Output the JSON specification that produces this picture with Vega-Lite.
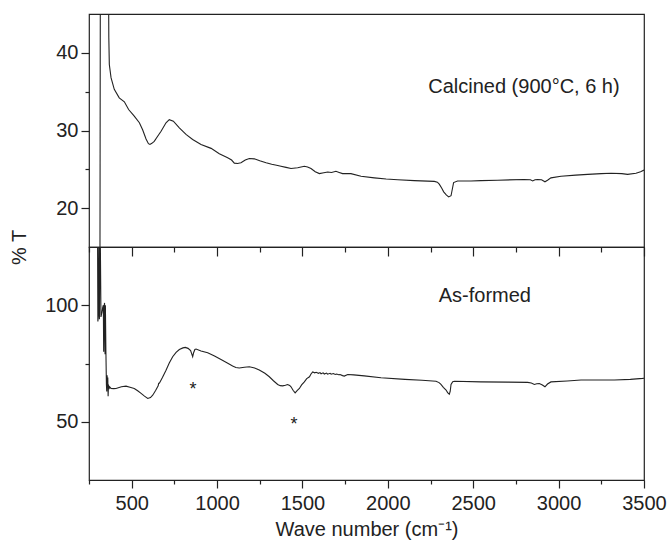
{
  "$schema": "https://vega.github.io/schema/vega-lite/v6.json",
  "bounds": "flush",
  "spacing": 0,
  "padding": {"left": 8, "top": 13, "right": 5, "bottom": 5},
  "background": "white",
  "config": {
    "font": "Liberation Sans",
    "view": {"stroke": "#222", "strokeWidth": 1.2},
    "axis": {
      "grid": false,
      "domain": false,
      "labelFont": "Liberation Sans",
      "labelFontSize": 20,
      "labelColor": "#222",
      "tickColor": "#222",
      "tickWidth": 1.2,
      "titleFont": "Liberation Sans",
      "titleFontSize": 20,
      "titleFontWeight": "normal",
      "titleColor": "#222",
      "labelPadding": 3
    },
    "text": {"font": "Liberation Sans", "color": "#222"}
  },
  "datasets": {
    "calcined": [
      {"wn":314,"t":10},{"wn":317,"t":60},{"wn":362,"t":60},{"wn":366,"t":42},{"wn":369,"t":38.5},{"wn":379,"t":36.8},{"wn":398,"t":35.3},{"wn":427,"t":34.2},{"wn":457,"t":33.7},{"wn":482,"t":32.7},{"wn":515,"t":31.85},{"wn":545,"t":31.0},{"wn":564,"t":30.1},{"wn":584,"t":28.9},{"wn":598,"t":28.3},{"wn":607,"t":28.2},{"wn":618,"t":28.35},{"wn":632,"t":28.6},{"wn":650,"t":29.2},{"wn":672,"t":29.9},{"wn":701,"t":31.0},{"wn":720,"t":31.4},{"wn":744,"t":31.2},{"wn":779,"t":30.35},{"wn":818,"t":29.5},{"wn":857,"t":28.85},{"wn":906,"t":28.2},{"wn":965,"t":27.7},{"wn":1013,"t":27.0},{"wn":1062,"t":26.5},{"wn":1085,"t":26.2},{"wn":1101,"t":25.8},{"wn":1120,"t":25.75},{"wn":1140,"t":25.85},{"wn":1165,"t":26.2},{"wn":1189,"t":26.4},{"wn":1218,"t":26.35},{"wn":1250,"t":26.1},{"wn":1287,"t":25.85},{"wn":1320,"t":25.65},{"wn":1355,"t":25.5},{"wn":1374,"t":25.4},{"wn":1404,"t":25.25},{"wn":1433,"t":25.1},{"wn":1472,"t":25.2},{"wn":1511,"t":25.4},{"wn":1530,"t":25.3},{"wn":1550,"t":25.1},{"wn":1575,"t":24.7},{"wn":1599,"t":24.45},{"wn":1625,"t":24.55},{"wn":1648,"t":24.65},{"wn":1670,"t":24.6},{"wn":1696,"t":24.75},{"wn":1715,"t":24.6},{"wn":1735,"t":24.45},{"wn":1784,"t":24.45},{"wn":1843,"t":24.1},{"wn":1921,"t":23.9},{"wn":1990,"t":23.75},{"wn":2058,"t":23.65},{"wn":2155,"t":23.55},{"wn":2272,"t":23.45},{"wn":2290,"t":23.35},{"wn":2301,"t":23.1},{"wn":2315,"t":22.6},{"wn":2327,"t":22.1},{"wn":2342,"t":21.7},{"wn":2356,"t":21.45},{"wn":2370,"t":21.6},{"wn":2378,"t":22.5},{"wn":2385,"t":23.3},{"wn":2408,"t":23.5},{"wn":2487,"t":23.5},{"wn":2545,"t":23.55},{"wn":2643,"t":23.6},{"wn":2799,"t":23.7},{"wn":2835,"t":23.65},{"wn":2848,"t":23.5},{"wn":2862,"t":23.65},{"wn":2877,"t":23.7},{"wn":2900,"t":23.65},{"wn":2920,"t":23.4},{"wn":2935,"t":23.6},{"wn":2955,"t":23.9},{"wn":3014,"t":24.1},{"wn":3100,"t":24.25},{"wn":3170,"t":24.35},{"wn":3250,"t":24.45},{"wn":3307,"t":24.5},{"wn":3370,"t":24.45},{"wn":3404,"t":24.35},{"wn":3453,"t":24.5},{"wn":3480,"t":24.7},{"wn":3500,"t":24.9}
    ],
    "asformed": [
      {"wn":300,"t":131},{"wn":302,"t":93},{"wn":305,"t":96},{"wn":308,"t":130},{"wn":311,"t":94},{"wn":315,"t":140},{"wn":320,"t":95},{"wn":326,"t":97},{"wn":330,"t":99},{"wn":334,"t":100},{"wn":336,"t":80},{"wn":338,"t":99},{"wn":341,"t":101},{"wn":344,"t":79},{"wn":346,"t":100},{"wn":349,"t":80},{"wn":352,"t":66},{"wn":354,"t":63},{"wn":356,"t":70},{"wn":358,"t":66},{"wn":360,"t":69},{"wn":362,"t":61},{"wn":364,"t":66},{"wn":367,"t":64},{"wn":371,"t":65},{"wn":379,"t":64.3},{"wn":395,"t":64.2},{"wn":408,"t":64.3},{"wn":440,"t":65},{"wn":467,"t":65.3},{"wn":490,"t":64.8},{"wn":515,"t":64.3},{"wn":535,"t":63.3},{"wn":555,"t":62.2},{"wn":575,"t":61},{"wn":594,"t":60.0},{"wn":610,"t":60.4},{"wn":623,"t":61.4},{"wn":640,"t":63.4},{"wn":655,"t":65.4},{"wn":658,"t":66.5},{"wn":662,"t":66.5},{"wn":680,"t":69},{"wn":701,"t":72.1},{"wn":720,"t":75.2},{"wn":740,"t":77.9},{"wn":760,"t":79.8},{"wn":779,"t":81.0},{"wn":800,"t":81.7},{"wn":814,"t":81.9},{"wn":830,"t":81.5},{"wn":845,"t":80.5},{"wn":852,"t":79},{"wn":857,"t":77.9},{"wn":862,"t":79.5},{"wn":870,"t":81.0},{"wn":877,"t":81.2},{"wn":906,"t":80.4},{"wn":945,"t":79.6},{"wn":985,"t":78.2},{"wn":1023,"t":76.7},{"wn":1060,"t":75.2},{"wn":1091,"t":73.9},{"wn":1110,"t":73.3},{"wn":1130,"t":73.1},{"wn":1160,"t":73.4},{"wn":1189,"t":73.6},{"wn":1220,"t":73.1},{"wn":1247,"t":72.2},{"wn":1280,"t":70.8},{"wn":1306,"t":69.3},{"wn":1330,"t":67.6},{"wn":1355,"t":66.0},{"wn":1370,"t":65.5},{"wn":1384,"t":65.4},{"wn":1400,"t":65.7},{"wn":1413,"t":66.0},{"wn":1425,"t":65.6},{"wn":1433,"t":65.0},{"wn":1445,"t":63.5},{"wn":1457,"t":62.4},{"wn":1470,"t":63.5},{"wn":1482,"t":64.3},{"wn":1495,"t":65.8},{"wn":1511,"t":67.1},{"wn":1525,"t":68.5},{"wn":1541,"t":69.3},{"wn":1550,"t":70.5},{"wn":1560,"t":71.4},{"wn":1572,"t":71.0},{"wn":1580,"t":71.2},{"wn":1594,"t":70.8},{"wn":1603,"t":71.1},{"wn":1609,"t":70.6},{"wn":1621,"t":71.0},{"wn":1628,"t":70.5},{"wn":1641,"t":70.9},{"wn":1647,"t":70.4},{"wn":1662,"t":70.8},{"wn":1668,"t":70.4},{"wn":1681,"t":70.7},{"wn":1692,"t":70.3},{"wn":1700,"t":70.5},{"wn":1712,"t":70.2},{"wn":1720,"t":70.3},{"wn":1735,"t":69.8},{"wn":1745,"t":69.6},{"wn":1765,"t":70.3},{"wn":1800,"t":70.1},{"wn":1862,"t":69.7},{"wn":1960,"t":68.9},{"wn":2100,"t":68.2},{"wn":2200,"t":67.8},{"wn":2282,"t":67.4},{"wn":2300,"t":66.8},{"wn":2311,"t":66.0},{"wn":2325,"t":64.8},{"wn":2341,"t":63.6},{"wn":2350,"t":62.5},{"wn":2360,"t":61.8},{"wn":2365,"t":63},{"wn":2370,"t":66.0},{"wn":2380,"t":67.2},{"wn":2390,"t":67.4},{"wn":2545,"t":67.1},{"wn":2700,"t":67.0},{"wn":2819,"t":66.9},{"wn":2840,"t":66.6},{"wn":2858,"t":66.0},{"wn":2872,"t":66.3},{"wn":2887,"t":66.4},{"wn":2905,"t":65.8},{"wn":2920,"t":65.0},{"wn":2935,"t":66.2},{"wn":2955,"t":67.1},{"wn":3050,"t":67.5},{"wn":3131,"t":67.9},{"wn":3326,"t":67.9},{"wn":3420,"t":68.2},{"wn":3492,"t":68.6},{"wn":3500,"t":68.7}
    ],
    "notes": [
      {"panel":"top","wn":2797,"t":35.6,"label":"Calcined (900°C, 6 h)"},
      {"panel":"bottom","wn":2568,"t":103.9,"label":"As-formed"},
      {"panel":"star","wn":859,"t":65.7,"label":"*"},
      {"panel":"star","wn":1450,"t":50.7,"label":"*"}
    ]
  },
  "vconcat": [
    {
      "width": 555,
      "height": 233,
      "encoding": {
        "x": {"field": "wn", "type": "quantitative",
          "scale": {"domain": [250, 3500], "nice": false, "zero": false},
          "axis": {"orient": "bottom", "title": null, "labels": false,
            "values": [250,500,750,1000,1250,1500,1750,2000,2250,2500,2750,3000,3250,3500],
            "tickSize": {"condition": {"test": "datum.value % 500 === 0", "value": 9}, "value": 5}}},
        "y": {"field": "t", "type": "quantitative",
          "scale": {"domain": [15, 45], "nice": false, "zero": false},
          "axis": {"title": "% T", "titleX": -60, "titleY": 233, "titleAlign": "center", "titleBaseline": "bottom", "titleAngle": -90,
            "values": [20,25,30,35,40], "format": "d",
            "labelExpr": "datum.value % 10 === 0 ? datum.label : ''",
            "tickSize": {"condition": {"test": "datum.value % 10 === 0", "value": 8}, "value": 4}}}
      },
      "layer": [
        {"data": {"name": "calcined"}, "mark": {"type": "line", "clip": true, "color": "#222", "strokeWidth": 1.1}},
        {"data": {"name": "notes"}, "transform": [{"filter": "datum.panel === 'top'"}],
         "mark": {"type": "text", "fontSize": 20, "align": "center", "baseline": "middle"},
         "encoding": {"text": {"field": "label"}}}
      ]
    },
    {
      "width": 555,
      "height": 233,
      "encoding": {
        "x": {"field": "wn", "type": "quantitative",
          "scale": {"domain": [250, 3500], "nice": false, "zero": false},
          "axis": {"orient": "bottom", "title": "Wave number (cm⁻¹)", "titlePadding": 6, "labelPadding": 5, "labelFlush": false, "labelOverlap": false, "format": "d",
            "values": [250,500,750,1000,1250,1500,1750,2000,2250,2500,2750,3000,3250,3500],
            "labelExpr": "datum.value % 500 === 0 ? datum.label : ''",
            "tickSize": {"condition": {"test": "datum.value % 500 === 0", "value": 8}, "value": 4}}},
        "y": {"field": "t", "type": "quantitative",
          "scale": {"domain": [25, 125], "nice": false, "zero": false},
          "axis": {"title": null, "values": [50,75,100], "format": "d",
            "labelExpr": "datum.value % 50 === 0 ? datum.label : ''",
            "tickSize": {"condition": {"test": "datum.value % 50 === 0", "value": 8}, "value": 4}}}
      },
      "layer": [
        {"data": {"name": "asformed"}, "mark": {"type": "line", "clip": true, "color": "#222", "strokeWidth": 1.1}},
        {"data": {"name": "notes"}, "transform": [{"filter": "datum.panel === 'bottom'"}],
         "mark": {"type": "text", "fontSize": 20, "align": "center", "baseline": "middle"},
         "encoding": {"text": {"field": "label"}}},
        {"data": {"name": "notes"}, "transform": [{"filter": "datum.panel === 'star'"}],
         "mark": {"type": "text", "fontSize": 18, "align": "center", "baseline": "middle", "dy": 5},
         "encoding": {"text": {"field": "label"}}}
      ]
    }
  ]
}
